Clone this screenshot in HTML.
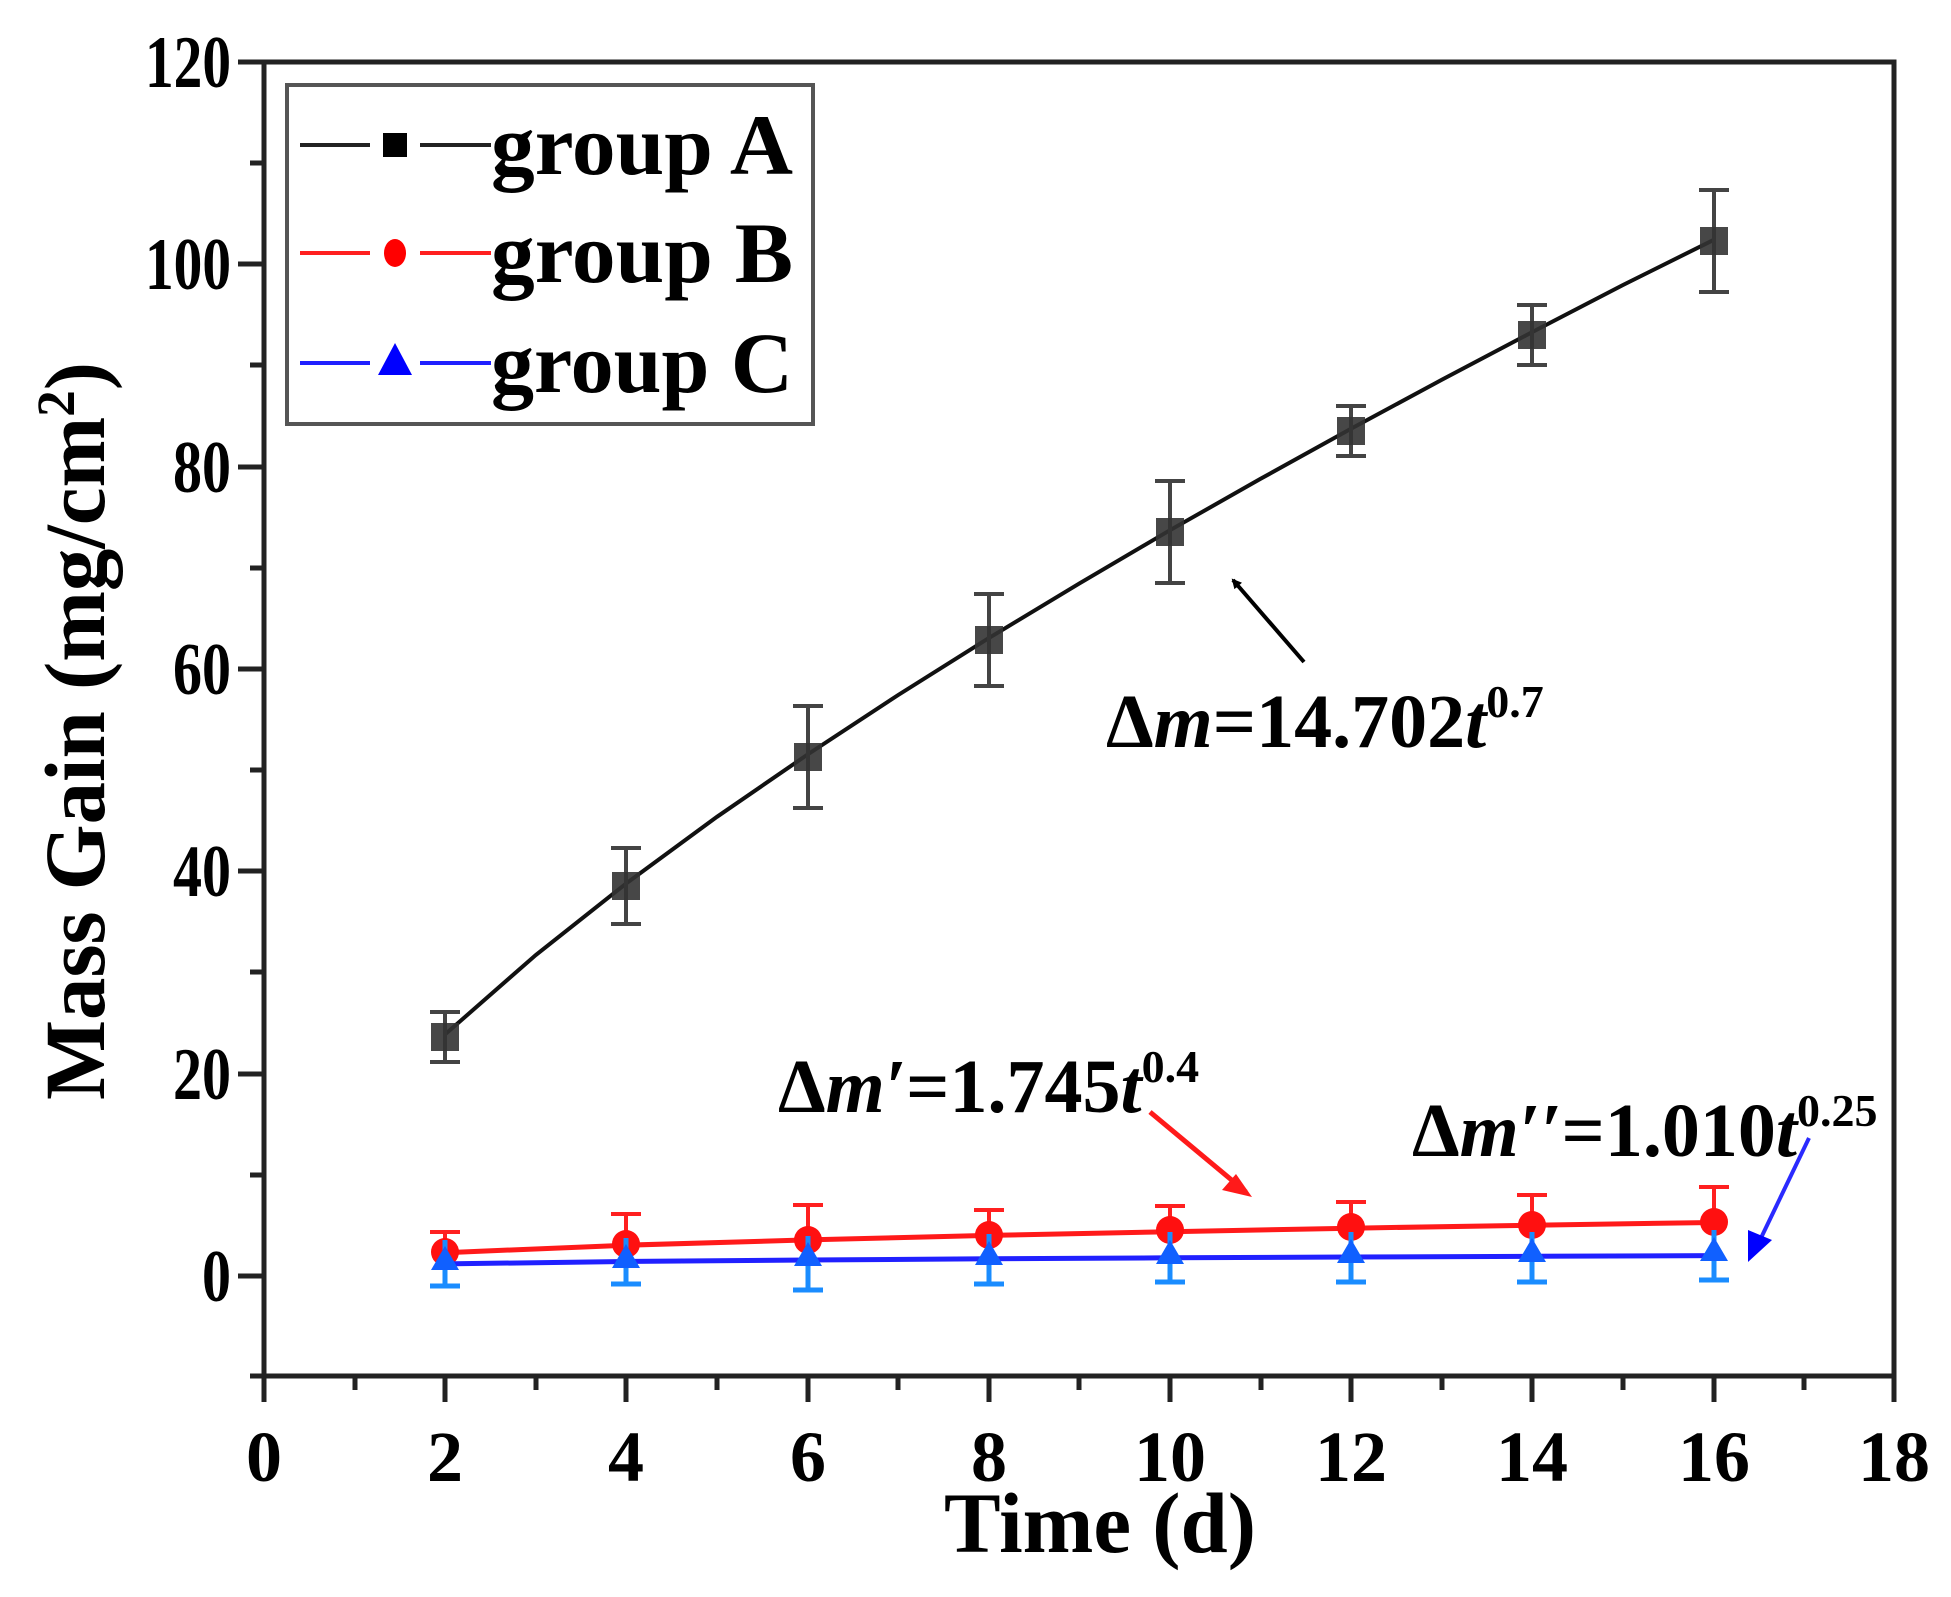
<!DOCTYPE html>
<html><head><meta charset="utf-8"><style>
html,body{margin:0;padding:0;background:#fff}
svg{display:block}
text{font-family:"Liberation Serif",serif;font-weight:bold;fill:#000}
</style></head><body>
<svg width="1951" height="1597" viewBox="0 0 1951 1597" xmlns="http://www.w3.org/2000/svg">
<defs>
<marker id="ak" markerWidth="10" markerHeight="10" refX="8" refY="5" orient="auto" markerUnits="userSpaceOnUse" viewBox="0 0 10 10"><path d="M0,0 L10,5 L0,10 z" fill="#000"/></marker>
</defs>
<rect x="264" y="62" width="1630" height="1314" fill="none" stroke="#222" stroke-width="5"/>
<g stroke="#222" stroke-width="5">
<line x1="264" y1="1376" x2="264" y2="1402"/><line x1="445" y1="1376" x2="445" y2="1402"/><line x1="626" y1="1376" x2="626" y2="1402"/><line x1="808" y1="1376" x2="808" y2="1402"/><line x1="989" y1="1376" x2="989" y2="1402"/><line x1="1170" y1="1376" x2="1170" y2="1402"/><line x1="1351" y1="1376" x2="1351" y2="1402"/><line x1="1532" y1="1376" x2="1532" y2="1402"/><line x1="1714" y1="1376" x2="1714" y2="1402"/><line x1="1894" y1="1376" x2="1894" y2="1402"/>
<line x1="355" y1="1376" x2="355" y2="1390"/><line x1="536" y1="1376" x2="536" y2="1390"/><line x1="717" y1="1376" x2="717" y2="1390"/><line x1="898" y1="1376" x2="898" y2="1390"/><line x1="1079" y1="1376" x2="1079" y2="1390"/><line x1="1261" y1="1376" x2="1261" y2="1390"/><line x1="1442" y1="1376" x2="1442" y2="1390"/><line x1="1623" y1="1376" x2="1623" y2="1390"/><line x1="1804" y1="1376" x2="1804" y2="1390"/>
<line x1="238" y1="62" x2="264" y2="62"/><line x1="238" y1="264" x2="264" y2="264"/><line x1="238" y1="467" x2="264" y2="467"/><line x1="238" y1="669" x2="264" y2="669"/><line x1="238" y1="871" x2="264" y2="871"/><line x1="238" y1="1074" x2="264" y2="1074"/><line x1="238" y1="1276" x2="264" y2="1276"/>
<line x1="250" y1="163" x2="264" y2="163"/><line x1="250" y1="365" x2="264" y2="365"/><line x1="250" y1="568" x2="264" y2="568"/><line x1="250" y1="770" x2="264" y2="770"/><line x1="250" y1="972" x2="264" y2="972"/><line x1="250" y1="1175" x2="264" y2="1175"/><line x1="250" y1="1376" x2="264" y2="1376"/>
</g>
<g font-size="74" text-anchor="end">
<text x="231" y="87" textLength="86" lengthAdjust="spacingAndGlyphs">120</text>
<text x="231" y="289" textLength="86" lengthAdjust="spacingAndGlyphs">100</text>
<text x="231" y="492" textLength="58" lengthAdjust="spacingAndGlyphs">80</text>
<text x="231" y="694" textLength="58" lengthAdjust="spacingAndGlyphs">60</text>
<text x="231" y="896" textLength="58" lengthAdjust="spacingAndGlyphs">40</text>
<text x="231" y="1099" textLength="58" lengthAdjust="spacingAndGlyphs">20</text>
<text x="231" y="1301" textLength="29" lengthAdjust="spacingAndGlyphs">0</text>
</g>
<g font-size="72" text-anchor="middle">
<text x="264" y="1481">0</text><text x="445" y="1481">2</text><text x="626" y="1481">4</text><text x="808" y="1481">6</text><text x="989" y="1481">8</text><text x="1170" y="1481">10</text><text x="1351" y="1481">12</text><text x="1532" y="1481">14</text><text x="1714" y="1481">16</text><text x="1894" y="1481">18</text>
</g>
<text x="944" y="1552" font-size="86" textLength="312" lengthAdjust="spacingAndGlyphs">Time (d)</text>
<text transform="translate(104,1100) rotate(-90)" font-size="86" textLength="738" lengthAdjust="spacingAndGlyphs">Mass Gain (mg/cm<tspan dy="-30" font-size="54">2</tspan><tspan dy="30">)</tspan></text>

<polyline fill="none" stroke="#111" stroke-width="4" points="445.2,1034.3 535.8,955 626.4,883.3 717,816.8 807.6,754.5 898.2,695 988.8,638.1 1079.4,583.4 1170,530.2 1260.6,478.8 1351.2,428.6 1441.8,379.8 1532.4,332 1623,285 1713.6,239.9"/>
<g stroke="#444" stroke-width="4">
<path d="M445,1012v50M430,1012h30M430,1062h30"/>
<path d="M626,848v76M611,848h30M611,924h30"/>
<path d="M808,706v102M793,706h30M793,808h30"/>
<path d="M989,594v92M974,594h30M974,686h30"/>
<path d="M1170,481v102M1155,481h30M1155,583h30"/>
<path d="M1351,406v50M1336,406h30M1336,456h30"/>
<path d="M1532,305v60M1517,305h30M1517,365h30"/>
<path d="M1714,190v102M1699,190h30M1699,292h30"/>
</g>
<g fill="#333" opacity="0.9">
<rect x="431" y="1023" width="28" height="28"/><rect x="612" y="872" width="28" height="28"/><rect x="794" y="743" width="28" height="28"/><rect x="975" y="626" width="28" height="28"/><rect x="1156" y="518" width="28" height="28"/><rect x="1337" y="417" width="28" height="28"/><rect x="1518" y="321" width="28" height="28"/><rect x="1700" y="227" width="28" height="28"/>
</g>

<g stroke="#ff2020" stroke-width="4">
<path d="M445,1232v40M430,1232h30"/>
<path d="M626,1214v60M611,1214h30"/>
<path d="M808,1205v60M793,1205h30"/>
<path d="M989,1210v50M974,1210h30"/>
<path d="M1170,1206v50M1155,1206h30"/>
<path d="M1351,1202v50M1336,1202h30"/>
<path d="M1532,1195v60M1517,1195h30"/>
<path d="M1714,1187v70M1699,1187h30"/>
</g>
<polyline fill="none" stroke="#ff1a1a" stroke-width="5" points="445,1252.7 626,1245.2 808,1239.9 989,1235.4 1170,1231.7 1351,1228.2 1532,1225.2 1714,1222.5"/>
<g fill="#ff1010">
<circle cx="445" cy="1252" r="14"/><circle cx="626" cy="1244" r="14"/><circle cx="808" cy="1240" r="14"/><circle cx="989" cy="1235" r="14"/><circle cx="1170" cy="1230" r="14"/><circle cx="1351" cy="1227" r="14"/><circle cx="1532" cy="1225" r="14"/><circle cx="1714" cy="1222" r="14"/>
</g>
<g stroke="#1a8cff" stroke-width="5">
<path d="M445,1240v46M430,1286h30"/>
<path d="M626,1238v46M611,1284h30"/>
<path d="M808,1236v54M793,1290h30"/>
<path d="M989,1234v50M974,1284h30"/>
<path d="M1170,1232v50M1155,1282h30"/>
<path d="M1351,1232v50M1336,1282h30"/>
<path d="M1532,1232v50M1517,1282h30"/>
<path d="M1714,1230v50M1699,1280h30"/>
</g>
<polyline fill="none" stroke="#2020ff" stroke-width="5" points="445,1263.9 626,1261.5 808,1260 989,1258.8 1170,1257.8 1351,1257 1532,1256.3 1714,1255.6"/>
<g fill="#1060ff">
<path d="M445,1246l14,24h-28z"/><path d="M626,1244l14,24h-28z"/><path d="M808,1242l14,24h-28z"/><path d="M989,1241l14,24h-28z"/><path d="M1170,1240l14,24h-28z"/><path d="M1351,1239l14,24h-28z"/><path d="M1532,1238l14,24h-28z"/><path d="M1714,1237l14,24h-28z"/>
</g>

<rect x="287" y="85" width="526" height="339" fill="#fff" stroke="#555" stroke-width="4"/>
<path d="M300,145h70M420,145h71" stroke="#222" stroke-width="4"/>
<rect x="383" y="133" width="24" height="24" fill="#000"/>
<path d="M300,253h70M420,253h71" stroke="#ff2020" stroke-width="4"/>
<ellipse cx="395" cy="253" rx="11" ry="14" fill="#ff0000"/>
<path d="M300,363h70M420,363h71" stroke="#2020ff" stroke-width="4"/>
<path d="M395,343l17,32h-34z" fill="#0000ff"/>
<g font-size="86">
<text x="491" y="174" textLength="302" lengthAdjust="spacingAndGlyphs">group A</text>
<text x="491" y="282" textLength="302" lengthAdjust="spacingAndGlyphs">group B</text>
<text x="491" y="392" textLength="302" lengthAdjust="spacingAndGlyphs">group C</text>
</g>

<line x1="1304" y1="662" x2="1233" y2="580" stroke="#000" stroke-width="4" marker-end="url(#ak)"/>
<text x="1106" y="747" font-size="76">Δ<tspan font-style="italic">m</tspan>=14.702<tspan font-style="italic">t</tspan><tspan dy="-30" font-size="46">0.7</tspan></text>
<line x1="1150" y1="1112" x2="1246" y2="1192" stroke="#ff1a1a" stroke-width="5"/>
<path d="M1252,1197 L1222,1190 L1236,1174 z" fill="#ff1a1a"/>
<text x="778" y="1112" font-size="76">Δ<tspan font-style="italic">m′</tspan>=1.745<tspan font-style="italic">t</tspan><tspan dy="-30" font-size="46">0.4</tspan></text>
<line x1="1809" y1="1138" x2="1760" y2="1240" stroke="#2a2aff" stroke-width="4"/>
<path d="M1748,1262 L1748,1230 L1772,1240 z" fill="#0000ff"/>
<text x="1412" y="1156" font-size="76">Δ<tspan font-style="italic">m′′</tspan>=1.010<tspan font-style="italic">t</tspan><tspan dy="-30" font-size="46">0.25</tspan></text>
</svg>
</body></html>
